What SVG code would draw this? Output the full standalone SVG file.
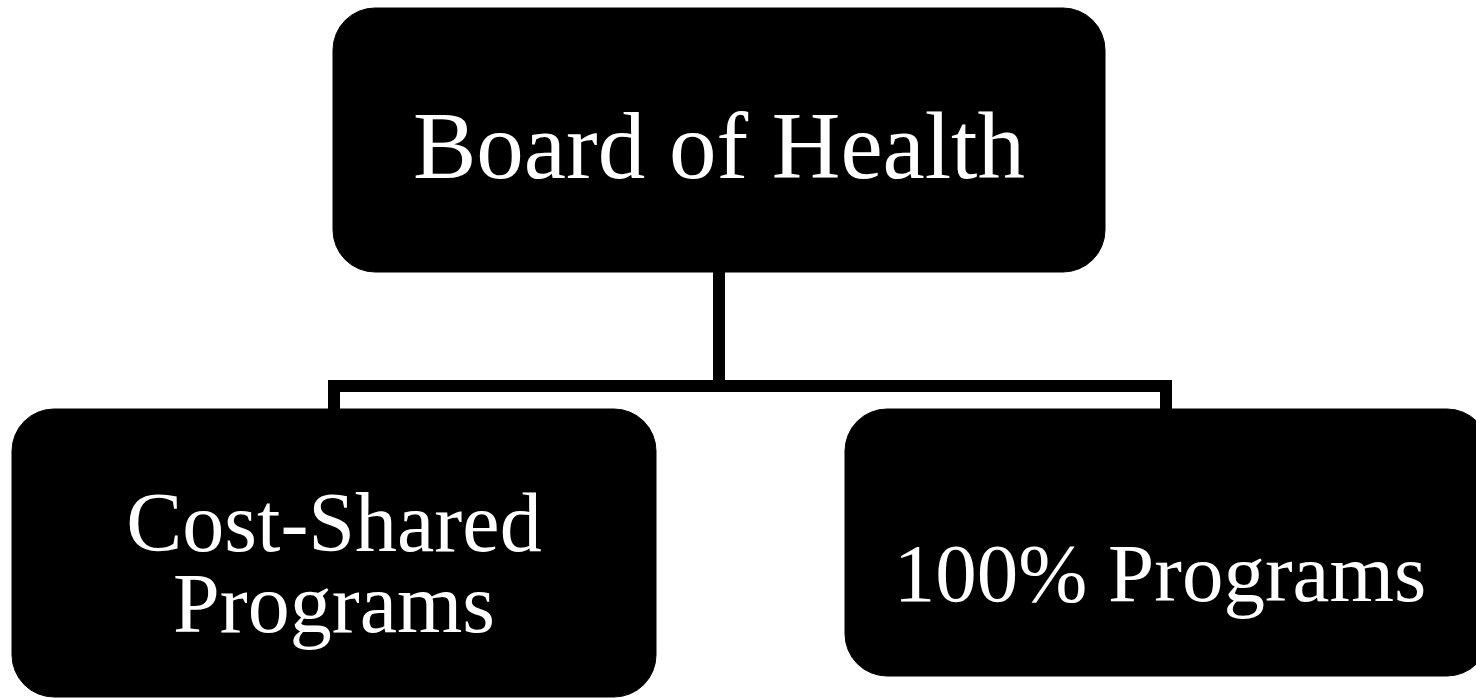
<svg xmlns="http://www.w3.org/2000/svg" width="1476" height="698" viewBox="0 0 1476 698">
<style>
.box{fill:#000;stroke:#000;stroke-width:1}
.lbl{fill:#fff;font-family:"Liberation Serif","Times New Roman",serif;text-anchor:middle}
.conn{fill:none;stroke:#000;stroke-width:12;stroke-linejoin:miter}
</style>
<rect width="1476" height="698" fill="#fff"/>
<g id="connectors">
<path class="conn" d="M719 272 V386"/>
<path class="conn" d="M334 409 V386 H1166 V409"/>
</g>
<g id="node-board">
<rect class="box" x="333" y="8" width="772" height="264" rx="42" ry="42"/>
<text class="lbl" x="719" y="178" font-size="95">Board of Health</text>
</g>
<g id="node-costshared">
<rect class="box" x="12" y="409" width="644" height="288" rx="42" ry="42"/>
<text class="lbl" x="334" y="551" font-size="84">Cost-Shared</text>
<text class="lbl" x="334" y="632" font-size="84">Programs</text>
</g>
<g id="node-100">
<rect class="box" x="845" y="409" width="644" height="267" rx="42" ry="42"/>
<text class="lbl" x="1160" y="601" font-size="83">100% Programs</text>
</g>
</svg>
